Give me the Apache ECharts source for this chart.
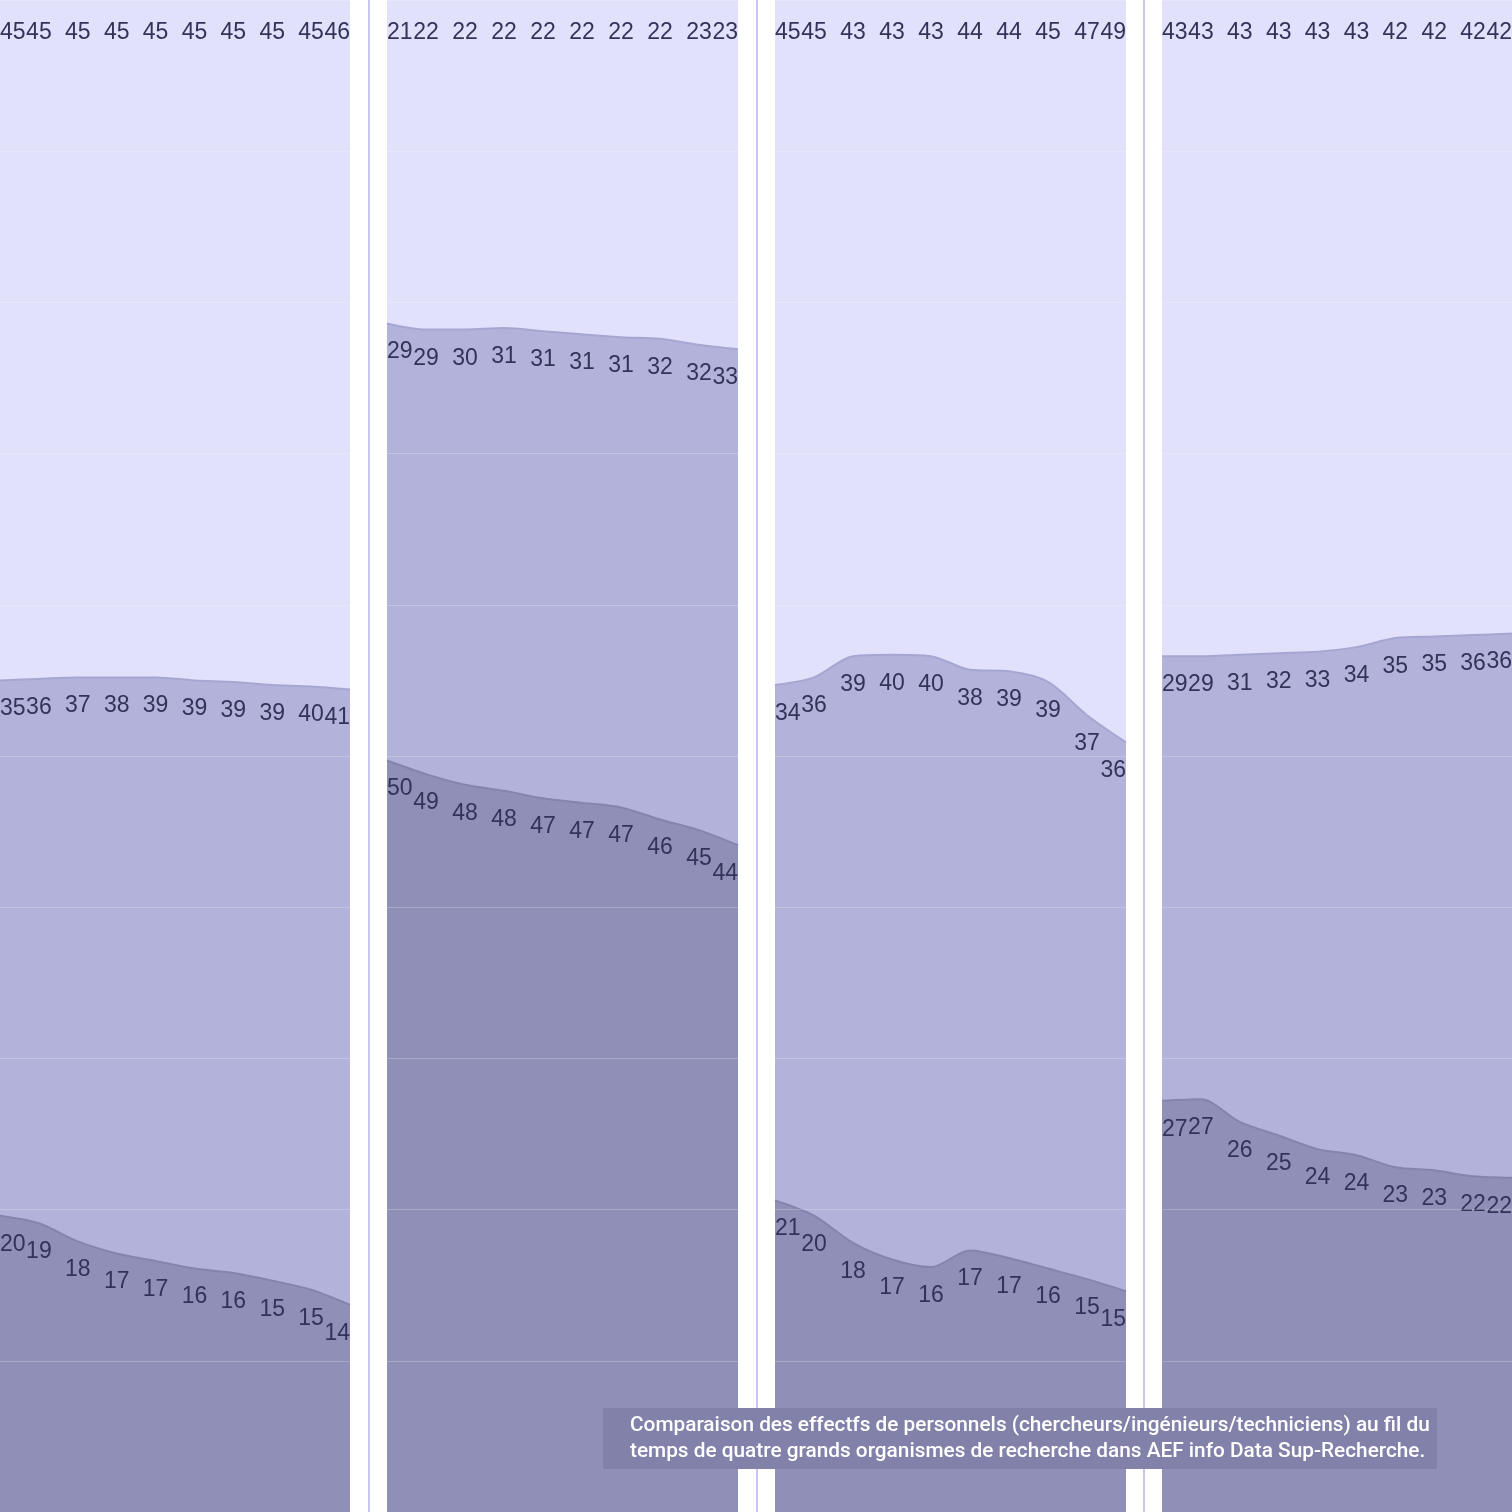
<!DOCTYPE html>
<html>
<head>
<meta charset="utf-8">
<script src="https://cdn.jsdelivr.net/npm/echarts@6/dist/echarts.min.js"></script>
<style>html,body{margin:0;padding:0;background:#fff;}#c{width:1512px;height:1512px;}</style>
</head>
<body>
<div id="c"></div>
<script>
// ten points per panel (time steps)
const steps = ['1','2','3','4','5','6','7','8','9','10'];

// Shares in % (labels show rounded values)
// Panel 1
const p1Bottom = [19.6,19.1,17.9,17.1,16.6,16.1,15.8,15.3,14.7,13.7];
const p1Middle = [35.4,36.0,37.3,38.1,38.6,38.9,39.1,39.4,39.9,40.7];
const p1Top    = [45.0,44.9,44.8,44.8,44.8,45.0,45.1,45.3,45.4,45.6];
// Panel 2
const p2Bottom = [49.7,48.8,48.1,47.7,47.2,46.9,46.6,45.8,45.1,44.1];
const p2Middle = [28.9,29.4,30.1,30.6,30.9,31.0,31.1,31.8,32.1,32.8];
const p2Top    = [21.4,21.8,21.8,21.7,21.9,22.1,22.3,22.4,22.8,23.1];
// Panel 3
const p3Bottom = [20.6,19.6,17.8,16.7,16.2,17.3,16.8,16.1,15.4,14.6];
const p3Middle = [34.1,35.6,38.8,40.0,40.4,38.4,38.8,38.8,37.3,36.3];
const p3Top    = [45.3,44.8,43.4,43.3,43.4,44.3,44.4,45.1,47.3,49.1];
// Panel 4
const p4Bottom = [27.2,27.3,25.8,24.9,24.0,23.6,22.8,22.6,22.2,22.1];
const p4Middle = [29.4,29.3,30.9,31.9,32.9,33.6,35.0,35.3,35.8,36.0];
const p4Top    = [43.4,43.4,43.3,43.2,43.1,42.8,42.2,42.1,42.0,41.9];

const caption = [
  'Comparaison des effectfs de personnels (chercheurs/ingénieurs/techniciens) au fil du',
  'temps de quatre grands organismes de recherche dans AEF info Data Sup-Recherche.'
];

const panels = [
  [p1Bottom, p1Middle, p1Top],
  [p2Bottom, p2Middle, p2Top],
  [p3Bottom, p3Middle, p3Top],
  [p4Bottom, p4Middle, p4Top]
];

const panelLeft = [0, 387, 775, 1162];
const panelWidth = [350, 351, 351, 350];
const fillColors = ['#8f8fb8', '#b2b2da', '#e1e1fb'];
const lineColors = ['#8484ae', '#a6a6d2', '#e1e1fb'];
const labelDist = [17, 17, 21];

const grids = [], xAxes = [], yAxes = [], series = [];
panels.forEach((layers, i) => {
  grids.push({left: panelLeft[i], width: panelWidth[i], top: 0, bottom: 0,
    show: true, backgroundColor: '#ededfd', borderWidth: 0});
  xAxes.push({type: 'category', gridIndex: i, data: steps, boundaryGap: false, show: false});
  yAxes.push({type: 'value', gridIndex: i, min: 0, max: 100, interval: 10, z: 5,
    axisLabel: {show: false}, axisLine: {show: false}, axisTick: {show: false},
    splitLine: {show: true, lineStyle: {color: 'rgba(255,255,255,0.22)', width: 1}}});
  layers.forEach((vals, j) => {
    series.push({
      type: 'line', xAxisIndex: i, yAxisIndex: i, stack: 'p' + i,
      data: vals, smooth: 0.3, clip: false,
      symbol: 'circle', symbolSize: 0.1, showSymbol: true,
      itemStyle: {color: 'rgba(0,0,0,0)'},
      lineStyle: {color: lineColors[j], width: 2},
      areaStyle: {color: fillColors[j], opacity: 1},
      emphasis: {disabled: true},
      label: {show: true, position: 'bottom', distance: labelDist[j],
        color: '#33335a', fontFamily: 'Liberation Sans', fontSize: 23,
        formatter: p => String(Math.round(p.value))},
      labelLayout: function (p) {
        if (p.dataIndex === 0) return {dx: p.labelRect.width / 2};
        if (p.dataIndex === steps.length - 1) return {dx: -p.labelRect.width / 2};
        return {};
      }
    });
  });
});

const graphics = [];
[369, 757, 1144].forEach(x => {
  graphics.push({type: 'rect', shape: {x: x - 1, y: 0, width: 2, height: 1512},
    style: {fill: '#c6c6f0'}, silent: true});
});
graphics.push({type: 'rect', shape: {x: 603, y: 1408, width: 834, height: 61},
  style: {fill: '#8181aa'}, z: 10});
caption.forEach((t, k) => {
  graphics.push({type: 'text', x: 630, y: 1426 + k * 25.5, z: 11,
    style: {text: t, fill: '#ffffff', font: '500 20.8px Roboto',
      textAlign: 'left', textVerticalAlign: 'middle'}});
});

const chart = echarts.init(document.getElementById('c'));
chart.setOption({
  animation: false,
  backgroundColor: '#ffffff',
  grid: grids, xAxis: xAxes, yAxis: yAxes, series: series,
  graphic: graphics
});
</script>
</body>
</html>
